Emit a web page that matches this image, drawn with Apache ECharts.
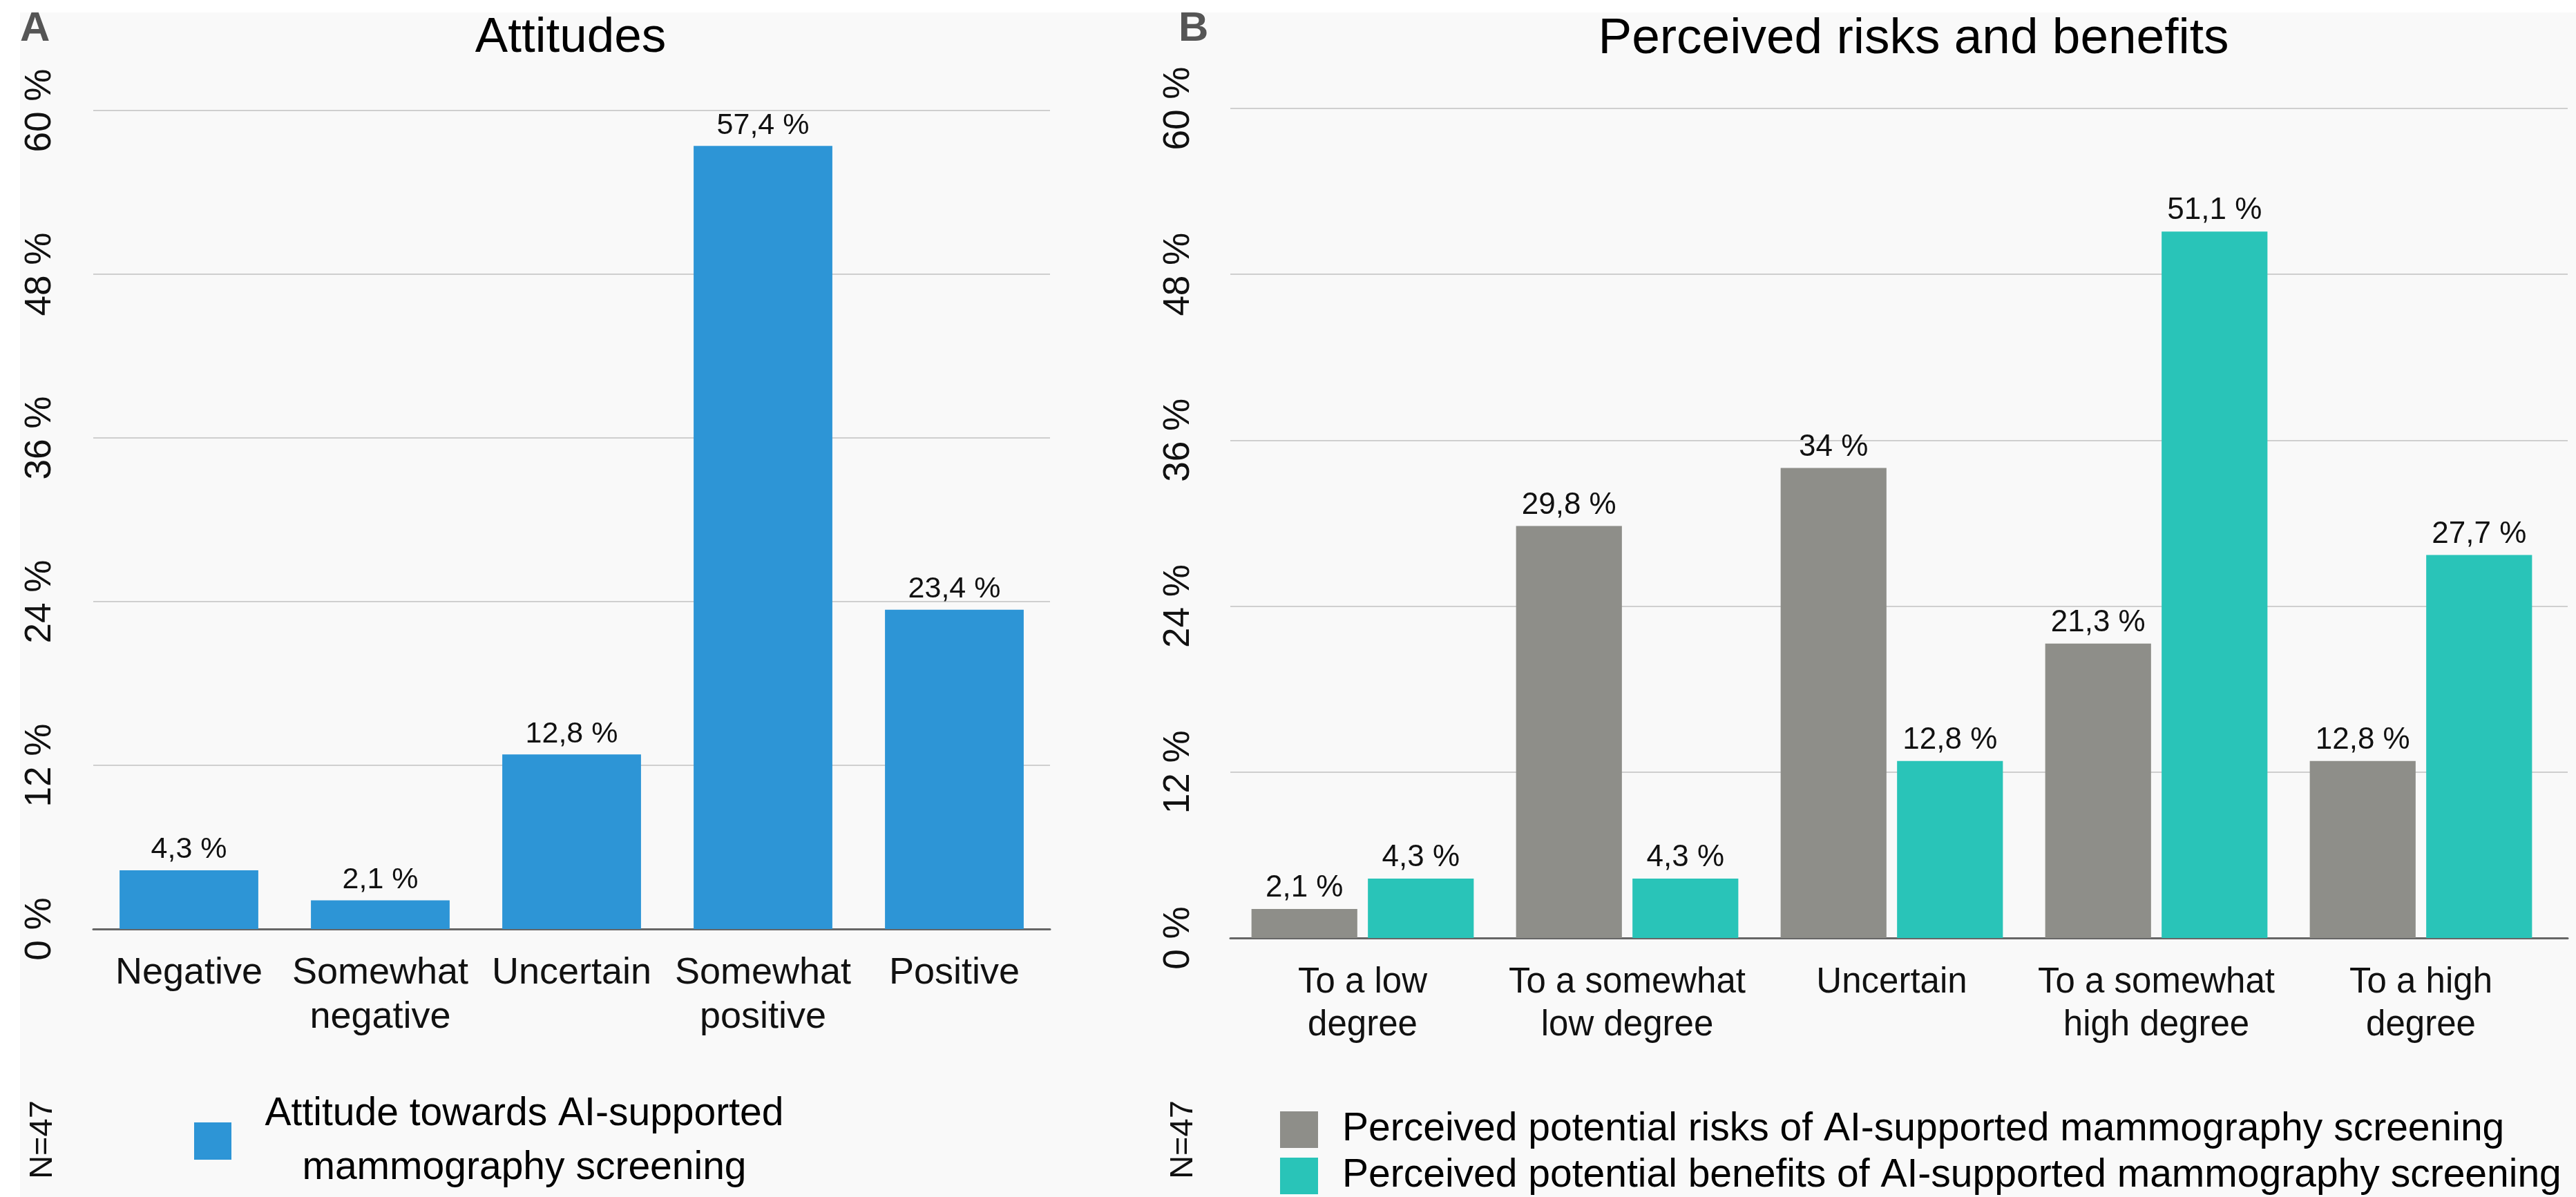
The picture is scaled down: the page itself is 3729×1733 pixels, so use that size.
<!DOCTYPE html>
<html>
<head>
<meta charset="utf-8">
<script src="https://cdn.jsdelivr.net/npm/echarts@6/dist/echarts.min.js"></script>
<style>
  html, body { margin: 0; padding: 0; background: #ffffff; }
  #chart { width: 3729px; height: 1733px; }
</style>
</head>
<body>
<div id="chart"></div>
<script>
// Panel A: attitudes
const attitudeCategories = ['Negative', 'Somewhat\nnegative', 'Uncertain', 'Somewhat\npositive', 'Positive'];
const attitudeValues = [4.3, 2.1, 12.8, 57.4, 23.4];
const attitudeName = 'Attitude towards AI-supported mammography screening';

// Panel B: perceived risks and benefits
const degreeCategories = ['To a low\ndegree', 'To a somewhat\nlow degree', 'Uncertain', 'To a somewhat\nhigh degree', 'To a high\ndegree'];
const riskValues = [2.1, 29.8, 34, 21.3, 12.8];
const benefitValues = [4.3, 4.3, 12.8, 51.1, 27.7];
const riskName = 'Perceived potential risks of AI-supported mammography screening';
const benefitName = 'Perceived potential benefits of AI-supported mammography screening';

// Shared percent axis
const axisMin = 0, axisMax = 60, axisStep = 12;
const sampleNote = 'N=47';

const FONT = '"Liberation Sans", Arial, Helvetica, sans-serif';
const BLUE = '#2d95d6', GRAY = '#8e8e89', TEAL = '#29c4b8';
const GRID_COLOR = '#cfcfcf', BASE_COLOR = '#666666';

const pct = v => String(v).replace('.', ',') + ' %';

function valueLabel(size) {
  return {
    show: true, position: 'top', distance: 8,
    fontFamily: FONT, fontSize: size, color: '#111',
    formatter: p => pct(p.value)
  };
}

function yAxis(gridIndex, margin, showLabels, showSplit) {
  return {
    type: 'value', gridIndex, min: axisMin, max: axisMax, interval: axisStep,
    axisLine: { show: false }, axisTick: { show: false },
    axisLabel: { show: showLabels, rotate: 90, margin, formatter: '{value} %', fontFamily: FONT, fontSize: 53, color: '#111' },
    splitLine: { show: showSplit, lineStyle: { color: GRID_COLOR, width: 2 } }
  };
}

function xAxis(gridIndex, data, size, lineHeight, margin, showLine) {
  return {
    type: 'category', gridIndex, data,
    axisTick: { show: false },
    axisLine: { show: showLine, lineStyle: { color: BASE_COLOR, width: 3 } },
    axisLabel: { interval: 0, margin, fontFamily: FONT, fontSize: size, lineHeight, color: '#111' }
  };
}

function legendItem(name, top) {
  return {
    data: [name], left: 1853, top, padding: 0,
    icon: 'rect', itemWidth: 55, itemHeight: 53, selectedMode: false,
    textStyle: { fontFamily: FONT, fontSize: 57, lineHeight: 53, color: '#000', padding: [0, 0, 0, 30] }
  };
}

const chart = echarts.init(document.getElementById('chart'), null, { renderer: 'canvas' });

chart.setOption({
  animation: false,
  backgroundColor: '#ffffff',
  textStyle: { fontFamily: FONT },
  graphic: [
    { type: 'rect', z: -100, silent: true, shape: { x: 29, y: 18, width: 3729 - 29, height: 1733 - 18 }, style: { fill: '#f9f9f9' } },
    { type: 'text', x: 62, y: 1650, rotation: Math.PI / 2, style: { text: sampleNote, align: 'center', verticalAlign: 'middle', font: '47px ' + FONT, fill: '#111' } },
    { type: 'text', x: 1713, y: 1650, rotation: Math.PI / 2, style: { text: sampleNote, align: 'center', verticalAlign: 'middle', font: '47px ' + FONT, fill: '#111' } }
  ],
  title: [
    { text: 'A', left: 29, top: 12, padding: 0, textStyle: { fontFamily: FONT, fontSize: 60, fontWeight: 'bold', color: '#555555' } },
    { text: 'Attitudes', left: 826, textAlign: 'center', top: 20, padding: 0, textStyle: { fontFamily: FONT, fontSize: 71, fontWeight: 'normal', color: '#000' } },
    { text: 'B', left: 1706, top: 12, padding: 0, textStyle: { fontFamily: FONT, fontSize: 60, fontWeight: 'bold', color: '#555555' } },
    { text: 'Perceived risks and benefits', left: 2770, textAlign: 'center', top: 20, padding: 0, textStyle: { fontFamily: FONT, fontSize: 73, fontWeight: 'normal', color: '#000' } }
  ],
  legend: [
    {
      data: [attitudeName], left: 281, top: 1574, padding: 0,
      icon: 'rect', itemWidth: 54, itemHeight: 54, selectedMode: false,
      formatter: name => name.replace(' mammography', '\nmammography').split('\n').map(s => '{a|' + s + '}').join('\n'),
      textStyle: { fontFamily: FONT, fontSize: 57, lineHeight: 78, color: '#000', rich: { a: { fontFamily: FONT, fontSize: 57, lineHeight: 78, width: 838, align: 'center', color: '#000' } } }
    },
    legendItem(riskName, 1607),
    legendItem(benefitName, 1674)
  ],
  grid: [
    { left: 135, top: 160, width: 1385, height: 1185, containLabel: false },
    { left: 1781, top: 157, width: 1915, height: 1201, containLabel: false },
    // full-width rules behind panel B
    { left: 1781, top: 157, width: 1936, height: 1201, containLabel: false }
  ],
  xAxis: [
    xAxis(0, attitudeCategories, 54, 64, 32, true),
    xAxis(1, degreeCategories, 51, 62, 34, false),
    { type: 'category', gridIndex: 2, data: [''], axisTick: { show: false }, axisLabel: { show: false },
      axisLine: { lineStyle: { color: BASE_COLOR, width: 3 } } }
  ],
  yAxis: [yAxis(0, 50, true, true), yAxis(1, 48, true, false), yAxis(2, 48, false, true)],
  series: [
    {
      type: 'bar', name: attitudeName, xAxisIndex: 0, yAxisIndex: 0, data: attitudeValues,
      barCategoryGap: '27.5%', itemStyle: { color: BLUE }, label: valueLabel(43),
      emphasis: { disabled: true }
    },
    {
      type: 'bar', name: riskName, xAxisIndex: 1, yAxisIndex: 1, data: riskValues,
      barGap: '10%', barCategoryGap: '16%', itemStyle: { color: GRAY }, label: valueLabel(44),
      emphasis: { disabled: true }, z: 3
    },
    {
      type: 'bar', name: benefitName, xAxisIndex: 1, yAxisIndex: 1, data: benefitValues,
      barGap: '10%', barCategoryGap: '16%', itemStyle: { color: TEAL }, label: valueLabel(44),
      emphasis: { disabled: true }, z: 3
    }
  ]
});
</script>
</body>
</html>
